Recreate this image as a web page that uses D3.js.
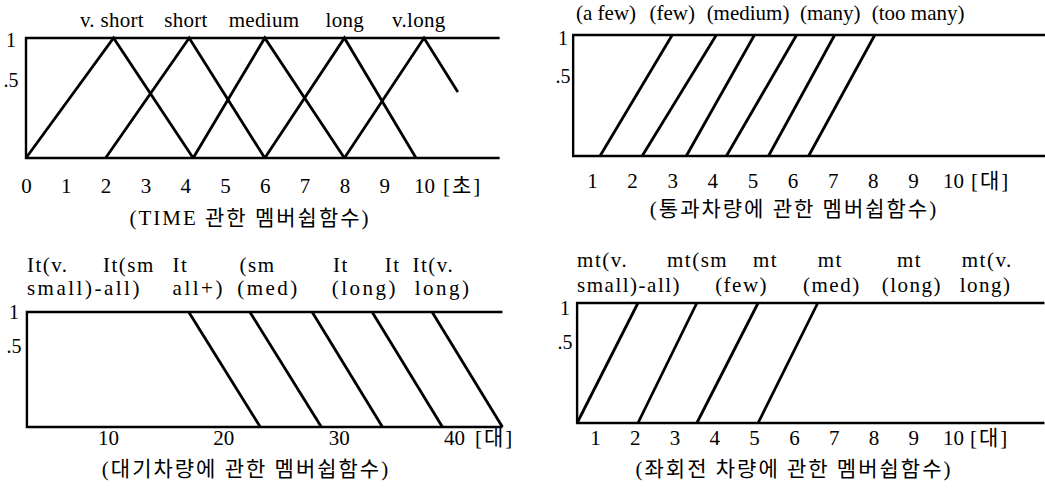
<!DOCTYPE html>
<html>
<head>
<meta charset="utf-8">
<script src="https://cdn.jsdelivr.net/npm/d3@7"></script>
<style>
  body { margin: 0; background: #fff; }
  svg { display: block; }
  text { font-family: "Liberation Serif", "Noto Sans CJK KR", serif; fill: #000; }
</style>
</head>
<body>
<div id="chart"></div>
<script>
// Membership functions (four small panels)

// Panel 1: TIME
const timeTicks = [0, 1, 2, 3, 4, 5, 6, 7, 8, 9, 10];
const timeTerms = ['v. short', 'short', 'medium', 'long', 'v.long'];
const timeTermX = [2.16, 4.02, 5.98, 8.01, 9.87];
const timeSets = [
  [[0, 0], [2.2, 1], [4.2, 0]],
  [[2, 0], [4.1, 1], [6, 0]],
  [[4.2, 0], [6, 1], [8, 0]],
  [[6, 0], [8, 1], [9.8, 0]],
  [[8, 0], [10, 1], [10.85, 0.55]]
];

// Panel 2: passing vehicles
const passTicks = [1, 2, 3, 4, 5, 6, 7, 8, 9, 10];
const passTerms = ['(a few)', '(few)', '(medium)', '(many)', '(too many)'];
const passTermX = [1.35, 3.0, 4.89, 6.94, 9.13];
const passSets = [
  [[1.2, 0], [3.0, 1]],
  [[2.25, 0], [4.1, 1]],
  [[3.35, 0], [5.05, 1]],
  [[4.35, 0], [6.1, 1]],
  [[5.4, 0], [7.05, 1]],
  [[6.4, 0], [8.05, 1]]
];

// Panel 3: waiting vehicles
const queueTicks = [10, 20, 30, 40];
const queueRow1 = ['It(v.', 'It(sm', 'It', '(sm', 'It', 'It', 'It(v.'];
const queueRow1X = [2.97, 9.57, 15.6, 21.4, 29.5, 34.0, 36.4];
const queueRow2 = ['small)-all)', 'all+)', '(med)', '(long)', 'long)'];
const queueRow2X = [2.97, 15.6, 21.2, 29.4, 36.6];
const queueSets = [
  [[17.0, 1], [23.2, 0]],
  [[22.3, 1], [28.5, 0]],
  [[27.7, 1], [33.8, 0]],
  [[32.9, 1], [39.0, 0]],
  [[38.1, 1], [44.2, 0]]
];

// Panel 4: left-turn vehicles
const turnTicks = [1, 2, 3, 4, 5, 6, 7, 8, 9, 10];
const turnRow1 = ['mt(v.', 'mt(sm', 'mt', 'mt', 'mt', 'mt(v.'];
const turnRow1X = [0.55, 2.81, 4.97, 6.6, 8.59, 10.22];
const turnRow2 = ['small)-all)', '(few)', '(med)', '(long)', 'long)'];
const turnRow2X = [0.55, 4.02, 6.23, 8.21, 10.17];
const turnSets = [
  [[0.55, 0], [2.08, 1]],
  [[2.08, 0], [3.56, 1]],
  [[3.56, 0], [5.1, 1]],
  [[5.1, 0], [6.6, 1]]
];

const W = 1045, H = 492;

const svg = d3.select('#chart').append('svg')
  .attr('width', W)
  .attr('height', H);

const line = (x, y) => d3.line().x(d => x(d[0])).y(d => y(d[1]));

function drawPanel(p) {
  const x = d3.scaleLinear().domain(p.domain).range(p.range);
  const y = d3.scaleLinear().domain([0, 1]).range([p.bottom, p.top]);
  const g = svg.append('g');

  // open box: left side, top and bottom running out to the right
  const x0 = x(p.xMin), x1 = x(p.xMax);
  g.append('path')
    .attr('d', `M${x1},${y(1)}H${x0}V${y(0)}H${x1}`)
    .attr('fill', 'none')
    .attr('stroke', '#000')
    .attr('stroke-width', 2.4);

  // membership lines
  g.selectAll('path.set')
    .data(p.sets)
    .join('path')
    .attr('class', 'set')
    .attr('d', line(x, y))
    .attr('fill', 'none')
    .attr('stroke', '#000')
    .attr('stroke-width', 2.8)
    .attr('stroke-linejoin', 'miter');

  // y labels
  const yAxis = g.append('g')
    .attr('transform', `translate(${p.yLabelX},0)`)
    .call(d3.axisLeft(y).tickValues([0.5, 1]).tickSize(0).tickPadding(0)
      .tickFormat(d => d === 1 ? '1' : '.5'));
  yAxis.select('.domain').remove();
  yAxis.selectAll('text')
    .attr('text-anchor', 'middle')
    .style('font-family', '"Liberation Serif", serif')
    .style('font-size', '20px')
    .attr('dy', d => d === 1 ? p.dyOne : p.dyHalf);

  // x tick labels
  const xAxis = g.append('g')
    .attr('transform', `translate(0,${p.tickY})`)
    .call(d3.axisBottom(x).tickValues(p.ticks).tickSize(0).tickPadding(0)
      .tickFormat(d3.format('d')));
  xAxis.select('.domain').remove();
  xAxis.selectAll('text')
    .attr('dy', 0)
    .style('font-family', '"Liberation Serif", serif')
    .style('font-size', '21px');

  // unit after last tick
  g.append('text')
    .attr('x', x(p.ticks[p.ticks.length - 1]) + p.unitGap)
    .attr('y', p.tickY)
    .style('font-size', '21px')
    .style('letter-spacing', '2px')
    .text(p.unit);

  // term labels
  p.rows.forEach(r => {
    g.selectAll(null)
      .data(r.labels)
      .join('text')
      .attr('x', (d, i) => x(r.xs[i]))
      .attr('y', r.y)
      .attr('text-anchor', r.anchor)
      .style('font-size', '21px')
      .style('letter-spacing', r.spacing)
      .text(d => d);
  });

  // caption
  g.append('text')
    .attr('x', p.captionX)
    .attr('y', p.captionY)
    .attr('text-anchor', 'middle')
    .style('font-size', '21px')
    .style('letter-spacing', '2px')
    .text(p.caption);
}

drawPanel({
  domain: [0, 10], range: [26, 424], xMin: 0, xMax: 11.9,
  top: 38, bottom: 158, sets: timeSets,
  yLabelX: 11, dyOne: 8, dyHalf: -12,
  ticks: timeTicks, tickY: 193, unit: '[초]', unitGap: 19,
  rows: [{ labels: timeTerms, xs: timeTermX, y: 27, anchor: 'middle', spacing: '0.3px' }],
  caption: '(TIME 관한 멤버쉽함수)', captionX: 250, captionY: 225
});

drawPanel({
  domain: [1, 10], range: [592, 953], xMin: 0.53, xMax: 12.3,
  top: 35, bottom: 156, sets: passSets,
  yLabelX: 563, dyOne: 9, dyHalf: -13,
  ticks: passTicks, tickY: 188, unit: '[대]', unitGap: 18,
  rows: [{ labels: passTerms, xs: passTermX, y: 20, anchor: 'middle', spacing: '0px' }],
  caption: '(통과차량에 관한 멤버쉽함수)', captionX: 794, captionY: 216
});

drawPanel({
  domain: [10, 40], range: [108, 454], xMin: 2.97, xMax: 44.2,
  top: 312, bottom: 427, sets: queueSets,
  yLabelX: 14, dyOne: 6, dyHalf: -17,
  ticks: queueTicks, tickY: 445, unit: '[대]', unitGap: 21,
  rows: [
    { labels: queueRow1, xs: queueRow1X, y: 272, anchor: 'start', spacing: '1.5px' },
    { labels: queueRow2, xs: queueRow2X, y: 295, anchor: 'start', spacing: '2.5px' }
  ],
  caption: '(대기차량에 관한 멤버쉽함수)', captionX: 246, captionY: 476
});

drawPanel({
  domain: [1, 10], range: [595, 953], xMin: 0.55, xMax: 12.3,
  top: 303, bottom: 423, sets: turnSets,
  yLabelX: 565, dyOne: 11, dyHalf: -15,
  ticks: turnTicks, tickY: 445, unit: '[대]', unitGap: 17,
  rows: [
    { labels: turnRow1, xs: turnRow1X, y: 267, anchor: 'start', spacing: '1.5px' },
    { labels: turnRow2, xs: turnRow2X, y: 292, anchor: 'start', spacing: '1.5px' }
  ],
  caption: '(좌회전 차량에 관한 멤버쉽함수)', captionX: 794, captionY: 476
});
</script>
</body>
</html>
